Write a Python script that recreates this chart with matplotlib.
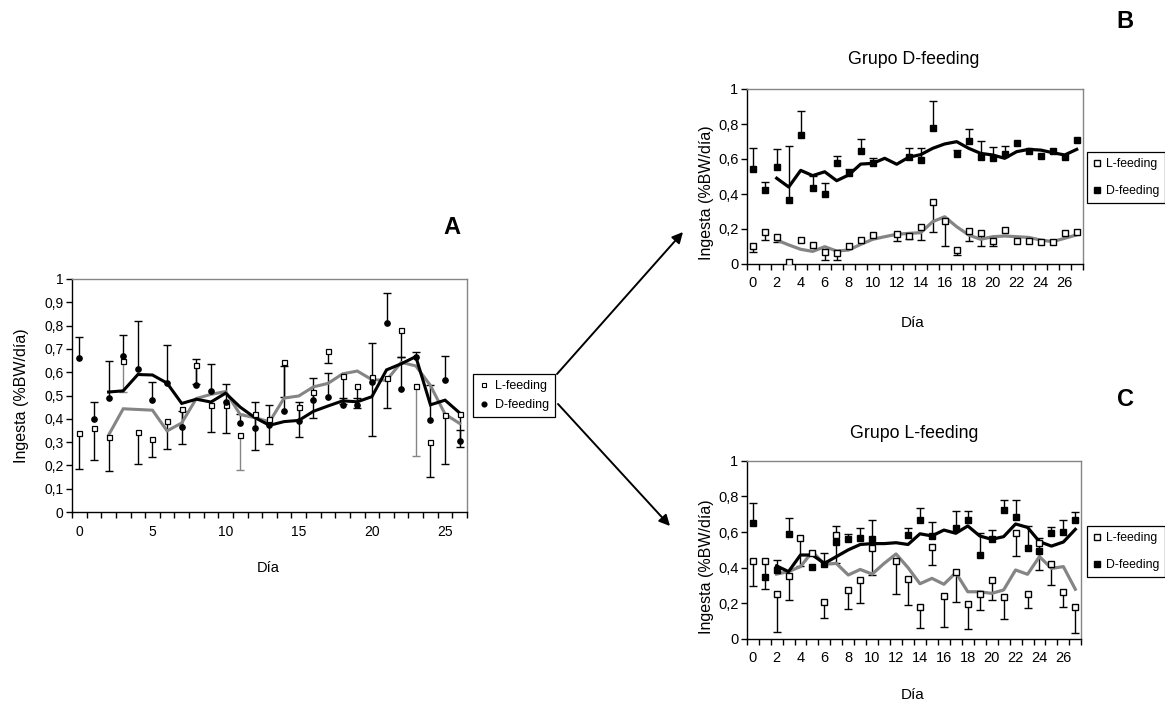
import numpy as np
import matplotlib
matplotlib.use("Agg")
import matplotlib.pyplot as plt
from matplotlib.patches import FancyArrowPatch
from matplotlib.lines import Line2D

nan = np.nan
plt.rcParams['font.family'] = ['Liberation Sans', 'DejaVu Sans']

# ---------------- Panel A: both groups together (days 0-26) ----------------
a_days = np.arange(27)
a_l_mean = [0.34, 0.36, 0.32, 0.65, 0.345, 0.315, 0.39, 0.44, 0.63, 0.46, 0.46, 0.33, 0.42,
            0.40, 0.645, 0.45, 0.515, 0.69, 0.585, 0.54, 0.58, 0.575, 0.78, 0.54, 0.30, 0.415, 0.42]
a_l_err = [0.155, 0.135, 0.145, 0.135, 0.14, 0.08, 0.12, 0.15, 0.08, 0.115, 0.12, 0.15, 0.155,
           0.11, 0.15, 0.13, 0.11, 0.05, 0.12, 0.095, 0.255, 0.13, 0.115, 0.30, 0.15, 0.21, 0.14]
a_d_mean = [0.66, 0.40, 0.49, 0.67, 0.615, 0.48, 0.555, 0.365, 0.545, 0.52, 0.47, 0.38, 0.36,
            0.375, 0.435, 0.39, 0.48, 0.495, 0.46, 0.46, 0.56, 0.81, 0.53, 0.665, 0.395, 0.565, 0.305]
a_d_err = [0.09, 0.07, 0.16, 0.09, 0.205, 0.08, 0.16, 0.07, 0.11, 0.115, 0.08, 0.04, 0.11,
           0.085, 0.19, 0.08, 0.095, 0.10, 0.03, 0.03, 0.165, 0.13, 0.135, 0.02, 0.15, 0.105, 0.045]
a_trend_days = np.arange(2, 27)
a_d_trend = [0.515, 0.52, 0.59, 0.588, 0.553, 0.466, 0.484, 0.472, 0.51, 0.45, 0.405, 0.372, 0.388,
             0.393, 0.432, 0.455, 0.477, 0.473, 0.495, 0.61, 0.636, 0.667, 0.46, 0.48, 0.425]
a_l_trend = [0.33, 0.443, 0.44, 0.437, 0.348, 0.382, 0.487, 0.505, 0.517, 0.418, 0.405, 0.387, 0.489,
             0.498, 0.537, 0.552, 0.593, 0.605, 0.568, 0.565, 0.642, 0.627, 0.543, 0.42, 0.38]
a_gray_err_days = [3, 11, 23]

# ---------------- Panel B: Grupo D-feeding (days 0-27) ----------------
bc_days = np.arange(28)
b_l_mean = [0.10, 0.18, 0.155, 0.01, 0.135, 0.11, 0.07, 0.065, 0.105, 0.135, 0.165, nan, 0.17, 0.16,
            0.21, 0.355, 0.245, 0.08, 0.19, 0.175, 0.13, 0.195, 0.13, 0.13, 0.125, 0.125, 0.175, 0.18]
b_l_err = [0.03, 0.045, 0.03, 0, 0, 0, 0.047, 0.042, 0, 0, 0, nan, 0.04, 0.02,
           0.075, 0.175, 0.14, 0.03, 0.06, 0.075, 0.03, 0, 0, 0, 0, 0, 0, 0]
b_d_mean = [0.545, 0.42, 0.555, 0.365, 0.735, 0.435, 0.40, 0.58, 0.52, 0.645, 0.575, nan, nan, 0.61,
            0.595, 0.775, nan, 0.63, 0.705, 0.61, 0.605, 0.63, 0.69, 0.645, 0.62, 0.645, 0.61, 0.71]
b_d_err = [0.12, 0.05, 0.10, 0.31, 0.14, 0.07, 0.065, 0.035, 0.02, 0.07, 0.03, nan, nan, 0.055,
           0.07, 0.155, nan, 0.02, 0.065, 0.095, 0.065, 0.045, 0, 0, 0, 0, 0, 0]
bc_trend_days = np.arange(2, 28)
b_d_trend = [0.49, 0.44, 0.535, 0.505, 0.527, 0.476, 0.509, 0.571, 0.575, 0.604, 0.57, 0.61, 0.625,
             0.661, 0.686, 0.699, 0.661, 0.632, 0.623, 0.604, 0.642, 0.655, 0.651, 0.636, 0.623, 0.655]
b_l_trend = [0.137, 0.109, 0.084, 0.072, 0.099, 0.074, 0.08, 0.112, 0.141, 0.156, 0.17, 0.175, 0.179,
             0.242, 0.27, 0.213, 0.166, 0.141, 0.156, 0.16, 0.156, 0.152, 0.137, 0.128, 0.147, 0.166]

# ---------------- Panel C: Grupo L-feeding (days 0-27) ----------------
c_l_mean = [0.435, 0.435, 0.255, 0.355, 0.565, 0.485, 0.21, 0.585, 0.275, 0.33, 0.51, nan, 0.435, 0.335,
            0.18, 0.515, 0.24, 0.375, 0.195, 0.255, 0.33, 0.235, 0.595, 0.25, 0.54, 0.42, 0.265, 0.18]
c_l_err = [0.135, 0.155, 0.215, 0.135, 0.155, 0.0, 0.09, 0.16, 0.105, 0.13, 0.15, nan, 0.18, 0.145,
           0.12, 0.10, 0.17, 0.17, 0.14, 0.095, 0.11, 0.125, 0.13, 0.075, 0.155, 0.115, 0.085, 0.145]
c_d_mean = [0.65, 0.345, 0.385, 0.59, nan, 0.405, 0.42, 0.545, 0.56, 0.565, 0.56, nan, nan, 0.585,
            0.665, 0.58, nan, 0.62, 0.665, 0.47, 0.56, 0.725, 0.685, 0.51, 0.495, 0.595, 0.60, 0.67]
c_d_err = [0.11, 0, 0.06, 0.09, nan, 0, 0.065, 0.09, 0.03, 0.055, 0.105, nan, nan, 0.04,
           0.07, 0.075, nan, 0.10, 0.055, 0.125, 0.05, 0.055, 0.095, 0.125, 0.07, 0.035, 0.07, 0.04]
c_d_trend = [0.41, 0.378, 0.471, 0.471, 0.424, 0.462, 0.50, 0.53, 0.535, 0.535, 0.54, 0.53, 0.59,
             0.578, 0.611, 0.593, 0.634, 0.578, 0.559, 0.574, 0.645, 0.626, 0.546, 0.521, 0.544, 0.615]
c_l_trend = [0.364, 0.378, 0.406, 0.49, 0.419, 0.424, 0.359, 0.39, 0.364, 0.424, 0.477, 0.40, 0.31,
             0.34, 0.307, 0.372, 0.265, 0.265, 0.256, 0.275, 0.387, 0.363, 0.462, 0.396, 0.406, 0.279]

series_labels = ['L-feeding', 'D-feeding']
y_label = 'Ingesta (%BW/día)'
x_label = 'Día'
GRAY = '#858585'

W, H = 1165, 706
fig = plt.figure(figsize=(W / 100, H / 100), dpi=100)


def fx(px):
    return px / W


def fy(py):
    return 1 - py / H


def add_axes_px(left, top, right, bottom):
    return fig.add_axes([fx(left), fy(bottom), fx(right) - fx(left), (bottom - top) / H])


def comma(v):
    return ('%g' % round(v, 2)).replace('.', ',')


def style_axes(ax, n, label_days, ystep, fontsize, tick_pad):
    ax.set_xlim(-0.5, n - 0.5)
    ax.set_ylim(0, 1)
    ax.set_xticks(label_days)
    ax.set_xticklabels([str(d) for d in label_days], fontsize=fontsize)
    ax.tick_params(axis='x', which='major', length=0, pad=tick_pad)
    ax.set_xticks(np.arange(n + 1) - 0.5, minor=True)
    ax.tick_params(axis='x', which='minor', length=4, width=1, direction='out', color='black')
    yt = np.round(np.arange(0, 1.0001, ystep), 2)
    ax.set_yticks(yt)
    ax.set_yticklabels([comma(v) for v in yt], fontsize=fontsize)
    ax.tick_params(axis='y', length=4, width=1, direction='out', pad=2)
    for s in ('top', 'right'):
        ax.spines[s].set_color(GRAY)
        ax.spines[s].set_linewidth(1)
    for s in ('left', 'bottom'):
        ax.spines[s].set_color('black')
        ax.spines[s].set_linewidth(1)
    ax.set_facecolor('white')


def error_whiskers(ax, x, mean, err, sign, colors, cap):
    mean = np.asarray(mean, float)
    err = np.asarray(err, float)
    for xi, m, e, c in zip(x, mean, err, colors):
        if np.isnan(m) or np.isnan(e) or e <= 0:
            continue
        end = m + sign * e
        ax.plot([xi, xi], [m, end], color=c, lw=1.0, zorder=2, solid_capstyle='butt')
        ax.plot([xi], [end], marker='_', ms=cap, mew=1.0, color=c, zorder=2)


# ---------------- Panel A ----------------
axA = add_axes_px(72, 279, 467, 512)
style_axes(axA, 27, [0, 5, 10, 15, 20, 25], 0.1, 10, 9)
l_colors = [GRAY if d in a_gray_err_days else 'black' for d in a_days]
error_whiskers(axA, a_days, a_l_mean, a_l_err, -1, l_colors, 6)
error_whiskers(axA, a_days, a_d_mean, a_d_err, +1, ['black'] * 27, 6)
axA.plot(a_trend_days, a_l_trend, color=GRAY, lw=2.2, zorder=3, solid_joinstyle='miter')
axA.plot(a_trend_days, a_d_trend, color='black', lw=2.2, zorder=3, solid_joinstyle='miter')
axA.plot(a_days, a_l_mean, ls='none', marker='s', ms=3.6, mfc='white', mec='black', mew=0.9, zorder=4)
axA.plot(a_days, a_d_mean, ls='none', marker='o', ms=3.8, mfc='black', mec='black', zorder=4)

fig.text(fx(22), fy(396), y_label, rotation=90, ha='center', va='center', fontsize=11.5)
fig.text(fx(268), fy(568), x_label, ha='center', va='center', fontsize=10.5)
fig.text(fx(452), fy(228), 'A', ha='center', va='center', fontsize=17, fontweight='bold')

hA = [Line2D([], [], ls='none', marker='s', ms=3.2, mfc='white', mec='black', mew=0.8),
      Line2D([], [], ls='none', marker='o', ms=3.4, mfc='black', mec='black')]
legA = fig.legend(hA, series_labels, loc='center', bbox_to_anchor=(fx(514), fy(395.5)),
                  fontsize=9, frameon=True, fancybox=False, edgecolor='black', framealpha=1,
                  handlelength=0.8, handletextpad=0.5, borderpad=0.45, labelspacing=0.55,
                  borderaxespad=0)
legA.get_frame().set_linewidth(0.9)


# ---------------- Panels B and C ----------------
def small_panel(top, bottom, right, l_mean, l_err, d_mean, d_err, l_trend, d_trend,
                title, title_y, ylab_y, xlab_y, legend_y):
    ax = add_axes_px(746.7, top, right, bottom)
    style_axes(ax, 28, list(range(0, 28, 2)), 0.2, 10.5, 9)
    error_whiskers(ax, bc_days, l_mean, l_err, -1, ['black'] * 28, 6)
    error_whiskers(ax, bc_days, d_mean, d_err, +1, ['black'] * 28, 6)
    ax.plot(bc_trend_days, l_trend, color=GRAY, lw=2.3, zorder=3)
    ax.plot(bc_trend_days, d_trend, color='black', lw=2.3, zorder=3)
    ax.plot(bc_days, l_mean, ls='none', marker='s', ms=5, mfc='white', mec='black', mew=1.0, zorder=4)
    ax.plot(bc_days, d_mean, ls='none', marker='s', ms=5, mfc='black', mec='black', mew=1.0, zorder=4)
    fig.text(fx(914), fy(title_y), title, ha='center', va='center', fontsize=12.8)
    fig.text(fx(706), fy(ylab_y), y_label, rotation=90, ha='center', va='center', fontsize=11.5)
    fig.text(fx(913), fy(xlab_y), x_label, ha='center', va='center', fontsize=11)
    handles = [Line2D([], [], ls='none', marker='s', ms=4.4, mfc='white', mec='black', mew=1.0),
               Line2D([], [], ls='none', marker='s', ms=4.4, mfc='black', mec='black')]
    leg = fig.legend(handles, series_labels, loc='center right',
                     bbox_to_anchor=(fx(1164.5), fy(legend_y)),
                     prop={'size': 8.8}, frameon=True, fancybox=False,
                     edgecolor='black', framealpha=1, handlelength=0.7, handletextpad=0.35,
                     borderpad=0.45, labelspacing=1.25, borderaxespad=0)
    leg.get_frame().set_linewidth(0.9)
    return ax


axB = small_panel(89, 264, 1082.7, b_l_mean, b_l_err, b_d_mean, b_d_err, b_l_trend, b_d_trend,
                  'Grupo D-feeding', 60, 193, 323, 177.5)
axC = small_panel(460.7, 639, 1081.3, c_l_mean, c_l_err, c_d_mean, c_d_err, c_l_trend, c_d_trend,
                  'Grupo L-feeding', 433, 567, 695, 551.5)

fig.text(fx(1125), fy(22), 'B', ha='center', va='center', fontsize=17, fontweight='bold')
fig.text(fx(1125), fy(400), 'C', ha='center', va='center', fontsize=17, fontweight='bold')

# arrows from the combined panel to the group panels
for start, end in [((557, 374), (683, 232)), ((558, 404), (670, 526))]:
    arr = FancyArrowPatch((fx(start[0]), fy(start[1])), (fx(end[0]), fy(end[1])),
                          transform=fig.transFigure, arrowstyle='-|>', mutation_scale=16,
                          lw=1.4, color='black', shrinkA=0, shrinkB=0)
    fig.add_artist(arr)

fig.savefig('out.png', dpi=100, facecolor='white')
